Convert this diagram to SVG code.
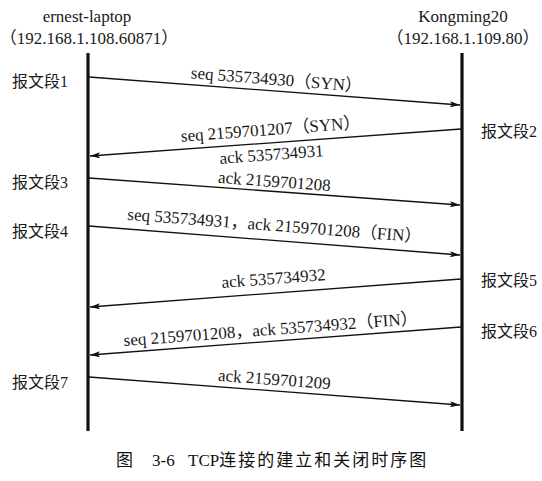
<svg xmlns="http://www.w3.org/2000/svg" width="542" height="481" viewBox="0 0 542 481">
<style>
text{font-family:"Liberation Serif",serif;font-size:17px;fill:#1a1a1a}
.c{font-family:"Noto Sans CJK SC",sans-serif}
.side{font-size:16px}
.life{stroke:#111;stroke-width:3.2}
.msg{stroke:#111;stroke-width:1.3;fill:none;marker-end:url(#ah)}
.cap{font-size:17px;fill:#111}
</style>
<defs>
<marker id="ah" viewBox="0 0 10 6" refX="10" refY="3" markerWidth="10" markerHeight="6" markerUnits="userSpaceOnUse" orient="auto">
<path d="M0,0 L10,3 L0,6 L2,3 Z" fill="#111"/>
</marker>
</defs>
<rect width="542" height="481" fill="#fff"/>
<g id="client">
<text x="87" y="22" text-anchor="middle">ernest-laptop</text>
<text x="89" y="44" text-anchor="middle" font-size="16.5"><tspan class="c">（</tspan>192.168.1.108.60871<tspan class="c">）</tspan></text>
<line class="life" x1="88" y1="53" x2="88" y2="431"/>
</g>
<g id="server">
<text x="463" y="22" text-anchor="middle">Kongming20</text>
<text x="463" y="44" text-anchor="middle"><tspan class="c">（</tspan>192.168.1.109.80<tspan class="c">）</tspan></text>
<line class="life" x1="462" y1="53" x2="462" y2="431"/>
</g>
<g id="side-labels">
<text class="side" x="12" y="87"><tspan class="c">报文段</tspan>1</text>
<text class="side" x="481" y="137"><tspan class="c">报文段</tspan>2</text>
<text class="side" x="12" y="188"><tspan class="c">报文段</tspan>3</text>
<text class="side" x="12" y="237"><tspan class="c">报文段</tspan>4</text>
<text class="side" x="481" y="286"><tspan class="c">报文段</tspan>5</text>
<text class="side" x="481" y="337"><tspan class="c">报文段</tspan>6</text>
<text class="side" x="12" y="388"><tspan class="c">报文段</tspan>7</text>
</g>
<g id="connectors">
<line class="msg" x1="89" y1="77" x2="460" y2="105"/>
<line class="msg" x1="461" y1="129" x2="90" y2="156"/>
<line class="msg" x1="89" y1="178" x2="460" y2="205"/>
<line class="msg" x1="89" y1="226" x2="460" y2="255"/>
<line class="msg" x1="461" y1="279" x2="90" y2="307"/>
<line class="msg" x1="461" y1="327" x2="90" y2="355"/>
<line class="msg" x1="89" y1="377" x2="460" y2="405"/>
</g>
<g id="msg-labels">
<text x="276" y="85" text-anchor="middle" transform="rotate(4.5 276 85)">seq 535734930<tspan class="c">（</tspan>SYN<tspan class="c">）</tspan></text>
<text x="271" y="135" text-anchor="middle" transform="rotate(-4.3 271 135)">seq 2159701207<tspan class="c">（</tspan>SYN<tspan class="c">）</tspan></text>
<text x="272" y="160" text-anchor="middle" transform="rotate(-4.3 272 160)">ack 535734931</text>
<text x="274" y="187" text-anchor="middle" transform="rotate(4.3 274 187)">ack 2159701208</text>
<text x="274" y="231" text-anchor="middle" transform="rotate(4.4 274 231)">seq 535734931<tspan class="c">，</tspan>ack 2159701208<tspan class="c">（</tspan>FIN<tspan class="c">）</tspan></text>
<text x="274" y="284" text-anchor="middle" transform="rotate(-4.3 274 284)">ack 535734932</text>
<text x="271" y="335" text-anchor="middle" transform="rotate(-4.3 271 335)">seq 2159701208<tspan class="c">，</tspan>ack 535734932<tspan class="c">（</tspan>FIN<tspan class="c">）</tspan></text>
<text x="274" y="385" text-anchor="middle" transform="rotate(4.3 274 385)">ack 2159701209</text>
</g>
<g id="caption">
<text class="cap c" x="116" y="466">图</text>
<text class="cap" x="152" y="466">3-6</text>
<text class="cap" x="188" y="466">TCP<tspan class="c" letter-spacing="2">连接的建立和关闭时序图</tspan></text>
</g>
</svg>
